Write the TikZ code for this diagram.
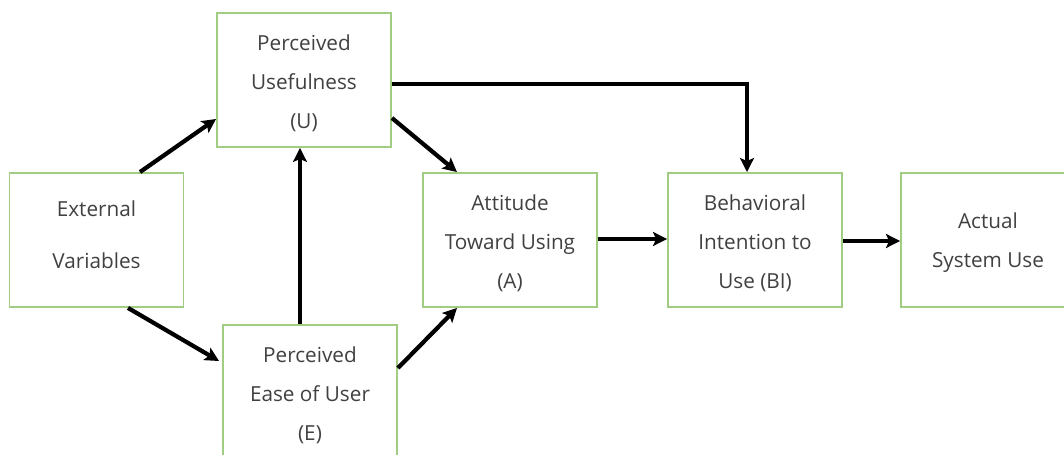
\documentclass[tikz,border=0pt]{standalone}
\usepackage{fontspec}
\setmainfont{Open Sans}
\usetikzlibrary{arrows.meta,calc}
\definecolor{cadre}{RGB}{160,205,130}
\definecolor{texte}{RGB}{65,65,65}
\newcommand{\haut}{\rule{0pt}{0.43cm}}
\tikzset{
  >={Stealth[length=2.8mm,width=2.8mm,inset=0.6mm]},
  facteur/.style={draw=cadre, line width=1.1pt, fill=white, align=center, text=texte,
    font=\fontsize{11.8}{22.2}\selectfont, inner sep=2pt,
    minimum width=3.48cm, minimum height=2.68cm},
  fleche/.style={->, line width=2.4pt, draw=black},
}
\begin{document}
\begin{tikzpicture}[x=0.02cm,y=-0.02cm]
    \useasboundingbox (0,0) rectangle (1064,455);
    % Facteurs
    \node[facteur] (ext)       at (96.5,240) {External\\[0.27cm]Variables\rule[-0.22cm]{0pt}{0.22cm}};
    \node[facteur] (useful)    at (304,80)   {\haut Perceived\\ Usefulness\\ (U)};
    \node[facteur] (ease)      at (310,392)  {\haut Perceived\\ Ease of User\\ (E)};
    \node[facteur] (attitude)  at (510,240)  {\haut Attitude\\ Toward Using\\ (A)};
    \node[facteur] (intention) at (755,240)  {\haut Behavioral\\ Intention to\\ Use (BI)};
    \node[facteur] (actual)    at (988,240)  {\haut Actual\\ System Use};
    % Fleches
    \draw[fleche] ($(ext.north)+(43.5,0)$) -- ($(useful.west)+(0,39)$);
    \draw[fleche] ($(ext.south)+(31.5,0)$) -- ($(ease.west)+(-3,-31)$);
    \draw[fleche] ($(ease.north)+(-10,0)$) -- ($(useful.south)+(-4,0)$);
    \draw[fleche] ($(useful.east)+(0,38)$) -- ($(attitude.north)+(-53,0)$);
    \draw[fleche] ($(ease.east)+(0,-24)$) -- ($(attitude.south)+(-53,0)$);
    \draw[fleche] ($(attitude.east)+(0,-1)$) -- ($(intention.west)+(0,-1)$);
    \draw[fleche] ($(useful.east)+(0,4)$) -| ($(intention.north)+(-8,0)$);
    \draw[fleche] ($(intention.east)+(0,1)$) -- ($(actual.west)+(0,1)$);
\end{tikzpicture}
\end{document}
